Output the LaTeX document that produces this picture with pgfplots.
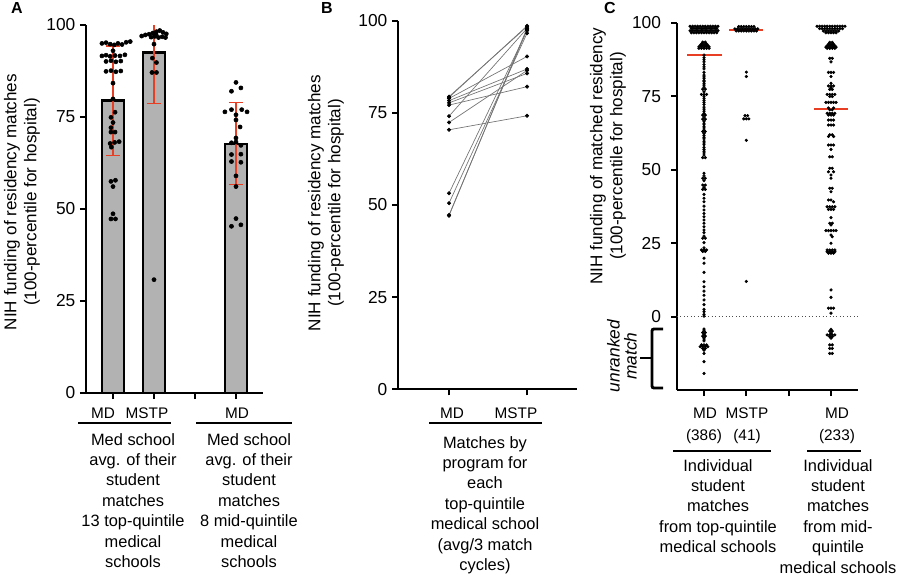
\documentclass[border=0pt]{standalone}
\usepackage{fontspec}
\setmainfont{Liberation Sans}
\usepackage{pgfplots}
\pgfplotsset{compat=1.18}

\definecolor{meanred}{RGB}{232,62,36}
\definecolor{barfill}{RGB}{178,178,178}
\definecolor{pairline}{RGB}{115,115,115}

\newcommand{\grp}{\fontsize{12.3}{15.3}\selectfont}
\newcommand{\catf}{\fontsize{11.5}{14}\selectfont}
\newcommand{\ylab}{\fontsize{12.8}{15}\selectfont}

\pgfplotsset{
  panel/.style={
    scale only axis, clip=false, anchor=south west,
    axis lines=left, axis line style={line width=1.5pt,-},
    tick align=outside, major tick length=4.5pt,
    every tick/.style={line width=1.5pt,black},
    tick label style={font=\fontsize{13}{15}\selectfont},
    /pgf/number format/assume math mode=true,
    xticklabel=\empty,
    ytick={0,25,50,75,100},
  },
  dotsA/.style={only marks, mark=*, mark size=1.55pt, mark options={draw=none,fill=black}},
  dotsC/.style={only marks, mark=*, mark size=1.0pt, mark options={draw=none,fill=black}},
  sdbar/.style={meanred, line width=1.1pt},
}

\begin{document}
\begin{tikzpicture}
\useasboundingbox (0pt,0pt) rectangle (675pt,-431.25pt);

% ---------------- Panel A: school averages ----------------
\begin{axis}[panel, at={(64.5pt,-294.75pt)}, width=132.75pt, height=276pt,
  xmin=0.341, xmax=4.659, ymin=0, ymax=100, xtick={1,2,3,4}]
\addplot[ybar, bar width=0.54, fill=barfill, draw=black, line width=2pt]
  coordinates {(1,79.4) (2,92.5) (4,67.7)};
% mean +/- SD
\addplot[sdbar] coordinates {(1,64.5) (1,94.3)};
\addplot[sdbar] coordinates {(0.82,94.3) (1.18,94.3)};
\addplot[sdbar] coordinates {(0.82,64.5) (1.18,64.5)};
\addplot[sdbar] coordinates {(2,78.7) (2,100)};
\addplot[sdbar] coordinates {(1.82,78.7) (2.18,78.7)};
\addplot[sdbar] coordinates {(4,56.7) (4,78.9)};
\addplot[sdbar] coordinates {(3.82,78.9) (4.18,78.9)};
\addplot[sdbar] coordinates {(3.82,56.7) (4.18,56.7)};
% MD, top quintile
\addplot[dotsA] coordinates {
(0.73,95.0)(0.83,95.2)(0.93,94.8)(1.03,94.6)(1.12,95.0)(1.22,94.7)(1.32,95.3)(1.42,95.5)
(1.00,93.0)
(0.73,91.6)(0.83,91.8)(0.93,91.5)(1.05,91.7)(1.17,91.6)(1.29,91.9)
(0.83,90.1)(0.95,90.3)(1.07,90.0)(1.19,90.2)
(0.83,87.4)(0.95,87.6)(1.07,87.3)(1.19,87.5)
(1.00,84.2)(1.00,79.9)(1.05,76.3)(0.95,74.9)(1.00,73.5)(0.95,72.1)(0.95,70.9)(1.05,70.9)
(0.93,67.8)(1.04,68.1)(1.15,68.3)(0.96,66.8)
(0.95,57.5)(1.06,57.8)(1.00,56.1)
(1.00,48.7)(0.95,47.3)(1.06,47.3)};
% MSTP, top quintile
\addplot[dotsA] coordinates {
(1.70,97.0)(1.79,97.3)(1.88,97.5)(1.97,97.8)(2.06,98.2)(2.14,98.5)(2.22,98.0)(2.30,97.6)
(1.93,96.7)(2.02,96.9)(2.11,96.6)(2.20,96.8)(2.28,96.6)(2.05,97.4)
(2.00,94.8)(1.96,91.0)(2.06,89.8)(1.95,87.1)(2.06,87.1)(2.00,30.8)};
% MD, mid quintile
\addplot[dotsA] coordinates {
(4.00,84.4)(3.89,82.0)(4.12,82.9)(3.73,76.4)(3.89,77.0)(4.14,77.0)(4.27,76.4)(4.00,75.6)
(4.00,74.2)(4.10,72.3)(4.00,69.3)(3.89,68.0)(4.00,68.2)(4.12,67.3)(3.89,64.8)(4.12,64.9)
(3.89,62.9)(4.12,62.7)(4.00,59.0)(4.00,56.1)(4.00,47.4)(3.89,45.3)(4.12,45.7)};
\end{axis}

% ---------------- Panel B: paired program averages ----------------
\begin{axis}[panel, at={(298.5pt,-292pt)}, width=134.25pt, height=276.5pt,
  xmin=0.346, xmax=2.64, ymin=0, ymax=100, xtick={1,2}]
\addplot[pairline, line width=0.5pt] coordinates {(1,79.4) (2,98.4)};
\addplot[pairline, line width=0.5pt] coordinates {(1,79.2) (2,98.6)};
\addplot[pairline, line width=0.5pt] coordinates {(1,78.9) (2,90.3)};
\addplot[pairline, line width=0.5pt] coordinates {(1,78.3) (2,86.9)};
\addplot[pairline, line width=0.5pt] coordinates {(1,77.7) (2,85.7)};
\addplot[pairline, line width=0.5pt] coordinates {(1,77.1) (2,82.1)};
\addplot[pairline, line width=0.5pt] coordinates {(1,74.1) (2,97.9)};
\addplot[pairline, line width=0.5pt] coordinates {(1,72.4) (2,86.5)};
\addplot[pairline, line width=0.5pt] coordinates {(1,70.4) (2,74.2)};
\addplot[pairline, line width=0.5pt] coordinates {(1,53.2) (2,97.3)};
\addplot[pairline, line width=0.5pt] coordinates {(1,50.5) (2,96.6)};
\addplot[pairline, line width=0.5pt] coordinates {(1,47.1) (2,98.0)};
\addplot[pairline, line width=0.5pt] coordinates {(1,47.3) (2,97.6)};
\addplot[only marks, mark=*, mark size=1.3pt, mark options={draw=none,fill=black}] coordinates {
(1,79.4)(1,79.2)(1,78.9)(1,78.3)(1,77.7)(1,77.1)(1,74.1)(1,72.4)(1,70.4)(1,53.2)(1,50.5)(1,47.1)(1,47.3)
(2,98.4)(2,98.6)(2,90.3)(2,86.9)(2,85.7)(2,82.1)(2,97.9)(2,86.5)(2,74.2)(2,97.3)(2,96.6)(2,98.0)(2,97.6)};
\end{axis}

% ---------------- Panel C: individual matches ----------------
\begin{axis}[panel, at={(507.75pt,-292.65pt)}, width=135.75pt, height=275.6pt,
  xmin=0.362, xmax=4.638, ymin=-25, ymax=100, xtick={1,2,3,4},
  yticklabel style={xshift=-4pt}]
\addplot[black!70, dotted, line width=0.6pt] coordinates {(0.362,0) (4.638,0)};
% MD, top quintile (386)
\addplot[dotsC] coordinates {
(0.67,98.8)(0.73,98.8)(0.79,98.8)(0.85,98.8)(0.91,98.8)(0.97,98.8)(1.03,98.8)(1.09,98.8)(1.15,98.8)(1.21,98.8)(1.27,98.8)(1.33,98.8)
(0.70,98.1)(0.76,98.1)(0.82,98.1)(0.88,98.1)(0.94,98.1)(1.00,98.1)(1.06,98.1)(1.12,98.1)(1.18,98.1)(1.24,98.1)(1.30,98.1)
(0.67,97.3)(0.73,97.3)(0.79,97.3)(0.85,97.3)(0.91,97.3)(0.97,97.3)(1.03,97.3)(1.09,97.3)(1.15,97.3)(1.21,97.3)(1.27,97.3)(1.33,97.3)
(0.70,96.6)(0.76,96.6)(0.82,96.6)(0.88,96.6)(0.94,96.6)(1.00,96.6)(1.06,96.6)(1.12,96.6)(1.18,96.6)(1.24,96.6)(1.30,96.6)
(0.97,93.4)(1.03,93.4)(0.94,92.8)(1.00,92.8)(1.06,92.8)(0.91,92.3)(0.97,92.3)(1.03,92.3)(1.09,92.3)
(0.88,91.8)(0.94,91.8)(1.00,91.8)(1.06,91.8)(1.12,91.8)(0.88,91.3)(0.94,91.3)(1.00,91.3)(1.06,91.3)(1.12,91.3)
(1,89.0)(1,88.1)(1,87.4)(1,86.7)(1,85.8)(1,85.0)(1,84.3)(1,83.1)(1,82.2)(1,81.6)(1,81.1)(1,80.4)(1,80.0)(1,79.4)
(1,78.8)(1,78.1)(0.97,77.4)(1.03,77.4)(1,76.5)(0.94,75.6)(1,75.6)(1.06,75.6)(1,75.0)(1,74.3)(1,73.6)(1,72.9)
(1,72.2)(1,71.3)(1,70.6)(1,69.9)(1,69.2)(0.97,68.6)(1.03,68.6)(1,67.9)(0.97,67.2)(1.03,67.2)(1,66.5)(1,65.8)
(1,65.3)(1,64.6)(1,64.2)(1,63.5)(0.97,63.0)(1.03,63.0)(1,62.3)(1,61.6)(1,61.0)(1,60.5)(1,59.7)(1,59.1)(1,58.5)
(1,57.6)(1,56.9)(1,56.3)(1,55.7)(1,55.0)(0.97,54.1)(1.03,54.1)
(1,48.8)(1,47.9)(0.97,47.1)(1.03,47.1)(1,46.3)(0.97,44.8)(1.03,44.8)(1,44.0)(0.97,43.3)(1.03,43.3)(1,41.6)(1,40.3)
(1,39.1)(1,37.6)(1,36.3)(1,35.1)(1,34.0)(1,32.9)(1,31.8)(1,30.6)(1,29.5)(1,28.6)(1,27.4)(0.97,26.7)(1.03,26.7)
(1,25.2)(1,23.4)(0.94,22.7)(1,22.7)(1.06,22.7)(0.97,22.2)(1.03,22.2)(1,19.9)(1,18.2)(1,15.1)(1,11.9)(1,10.2)
(1,8.7)(1,7.3)(1,5.7)(1,4.1)(1,2.5)(1,1.7)(1,0.8)(1,0.2)
(1,-4.2)(1,-4.8)(0.97,-5.4)(1.03,-5.4)(1,-6.0)(0.97,-6.6)(1.03,-6.6)(1,-7.2)(1,-7.6)(1,-8.2)
(0.94,-9.6)(1,-9.6)(1.06,-9.6)(0.91,-10.2)(0.97,-10.2)(1.03,-10.2)(1.09,-10.2)(0.97,-10.8)(1.03,-10.8)
(1,-11.4)(1,-12.5)(1,-15.3)(1,-19.3)};
% MSTP, top quintile (41)
\addplot[dotsC] coordinates {
(1.82,98.7)(1.88,98.7)(1.94,98.7)(2.00,98.7)(2.06,98.7)(2.12,98.7)(2.18,98.7)
(1.73,97.9)(1.79,97.9)(1.85,97.9)(1.91,97.9)(1.97,97.9)(2.03,97.9)(2.09,97.9)(2.15,97.9)(2.21,97.9)(2.27,97.9)
(1.76,97.2)(1.82,97.2)(1.88,97.2)(1.94,97.2)(2.00,97.2)(2.06,97.2)(2.12,97.2)(2.18,97.2)(2.24,97.2)
(2,83.2)(2,81.7)(1.97,68.4)(2.03,68.4)(1.94,67.3)(2.00,67.3)(2.06,67.3)(2,60.0)(2,12.0)};
% MD, mid quintile (233)
\addplot[dotsC] coordinates {
(3.67,98.8)(3.73,98.8)(3.79,98.8)(3.85,98.8)(3.91,98.8)(3.97,98.8)(4.03,98.8)(4.09,98.8)(4.15,98.8)(4.21,98.8)(4.27,98.8)(4.33,98.8)
(3.73,98.0)(3.79,98.0)(3.85,98.0)(3.91,98.0)(3.97,98.0)(4.03,98.0)(4.09,98.0)(4.15,98.0)(4.21,98.0)(4.27,98.0)
(3.82,97.2)(3.88,97.2)(3.94,97.2)(4.00,97.2)(4.06,97.2)(4.12,97.2)(4.18,97.2)
(3.88,96.6)(3.94,96.6)(4.00,96.6)(4.06,96.6)(4.12,96.6)
(3.97,93.3)(4.03,93.3)(3.94,92.7)(4.00,92.7)(4.06,92.7)(3.91,92.2)(3.97,92.2)(4.03,92.2)(4.09,92.2)
(3.88,91.7)(3.94,91.7)(4.00,91.7)(4.06,91.7)(4.12,91.7)(3.91,91.3)(3.97,91.3)(4.03,91.3)(4.09,91.3)
(3.97,87.9)(4.03,87.9)(4,86.7)(3.94,83.1)(4,83.1)(4.06,83.1)(4,81.7)(4,79.4)(3.94,78.5)(4,78.5)(4.06,78.5)
(4,77.9)(3.97,77.3)(4.03,77.3)(3.91,75.6)(3.97,75.6)(4.03,75.6)(4.09,75.6)(3.97,74.9)(4.03,74.9)
(3.88,72.9)(3.94,72.9)(4,72.9)(4.06,72.9)(4.12,72.9)(3.94,71.0)(4.06,71.0)(3.97,70.4)(4.03,70.4)
(3.91,69.2)(3.97,69.2)(4.03,69.2)(4.09,69.2)(3.94,68.6)(4,68.6)(4.06,68.6)(3.94,66.9)(4,66.9)(4.06,66.9)
(3.94,65.2)(4,65.2)(4.06,65.2)(3.97,61.9)(4.03,61.9)(3.94,61.3)(4.06,61.3)(3.94,58.4)(4,58.4)(4.06,58.4)
(4,56.9)(3.97,54.4)(4.03,54.4)(3.97,50.5)(4.03,50.5)(3.94,49.3)(4.06,49.3)(4,48.2)(4,47.1)(3.97,43.7)(4.03,43.7)
(4,42.5)(3.94,39.7)(4,39.7)(4.06,39.1)(3.91,37.4)(3.97,37.4)(4.03,37.4)(4.09,37.4)(3.94,36.5)(4,36.5)(4.06,36.5)
(4,33.7)(3.97,31.8)(4.03,31.8)(4,31.2)(3.88,29.3)(3.94,29.3)(4,29.3)(4.06,29.3)(4.12,29.3)(4,27.8)(4.03,27.2)
(4,25.0)(3.91,22.7)(3.97,22.7)(4.03,22.7)(4.09,22.7)(3.91,22.1)(3.97,22.1)(4.03,22.1)(4.09,22.1)
(3.94,21.6)(4,21.6)(4.06,21.6)(4,9.1)(4,6.6)(3.94,2.9)(4,2.9)(4.06,2.9)(4,1.2)
(4,-4.3)(3.97,-4.9)(4.03,-4.9)(4,-5.6)(3.91,-6.2)(3.97,-6.2)(4.03,-6.2)(4.09,-6.2)(3.97,-6.8)(4.03,-6.8)
(4,-7.3)(3.97,-9.6)(4.03,-9.6)(3.97,-10.8)(4.03,-10.8)(3.97,-12.5)(4.03,-12.5)};
% group means
\addplot[meanred, line width=1.5pt] coordinates {(0.60,89.0) (1.43,89.0)};
\addplot[meanred, line width=1.5pt] coordinates {(1.59,97.5) (2.40,97.5)};
\addplot[meanred, line width=1.5pt] coordinates {(3.60,70.6) (4.40,70.6)};
\end{axis}

% ---------------- annotations (pixel grid, y downwards) ----------------
\begin{scope}[x=0.75pt, y=-0.75pt]
% panel letters
\node[font=\fontsize{12}{14}\selectfont\bfseries] at (17,8) {A};
\node[font=\fontsize{12}{14}\selectfont\bfseries] at (327,8) {B};
\node[font=\fontsize{12}{14}\selectfont\bfseries] at (610,8) {C};

% y labels
\node[rotate=90, align=center, font=\ylab] at (22,202)
  {NIH funding of residency matches\\(100-percentile for hospital)};
\node[rotate=90, align=center, font=\ylab] at (326,203)
  {NIH funding of residency matches\\(100-percentile for hospital)};
\node[rotate=90, align=center, font=\ylab] at (608,156)
  {NIH funding of matched residency\\(100-percentile for hospital)};

% unranked bracket
\draw[line width=2.2pt, rounded corners=1.5pt] (663,329) -- (652,329) -- (652,388) -- (663,388);
\draw[line width=2.2pt] (652,358) -- (640,358);
\node[rotate=90, align=center, font=\fontsize{13}{12.8}\selectfont\itshape] at (622,356)
  {unranked\\match};

% panel A categories
\node[font=\catf] at (103,413) {MD};
\node[font=\catf] at (147,413) {MSTP};
\node[font=\catf] at (237,413) {MD};
\draw[line width=2.2pt] (78,423) -- (171,423);
\draw[line width=2.2pt] (196,423) -- (292,423);
\node[align=center, font=\grp, anchor=north, inner sep=0pt] at (133,433)
  {Med school\\avg. of their\\student\\matches\\13 top-quintile\\medical\\schools};
\node[align=center, font=\grp, anchor=north, inner sep=0pt] at (249,433)
  {Med school\\avg. of their\\student\\matches\\8 mid-quintile\\medical\\schools};

% panel B categories
\node[font=\catf] at (452,413) {MD};
\node[font=\catf] at (516,413) {MSTP};
\draw[line width=2.2pt] (429,423) -- (542,423);
\node[align=center, font=\grp, anchor=north, inner sep=0pt] at (485,436)
  {Matches by\\program for\\each\\top-quintile\\medical school\\(avg/3 match\\cycles)};

% panel C categories
\node[font=\catf] at (705,413) {MD};
\node[font=\catf] at (747,413) {MSTP};
\node[font=\catf] at (837,413) {MD};
\node[font=\catf] at (704,437) {(386)};
\node[font=\catf] at (747,437) {(41)};
\node[font=\catf] at (837,437) {(233)};
\draw[line width=2.2pt] (673,451) -- (771,451);
\draw[line width=2.2pt] (807,451) -- (861,451);
\node[align=center, font=\grp, anchor=north, inner sep=0pt] at (718,459)
  {Individual\\student\\matches\\from top-quintile\\medical schools};
\node[align=center, font=\grp, anchor=north, inner sep=0pt] at (838,459)
  {Individual\\student\\matches\\from mid-\\quintile\\medical schools};
\end{scope}
\end{tikzpicture}
\end{document}
